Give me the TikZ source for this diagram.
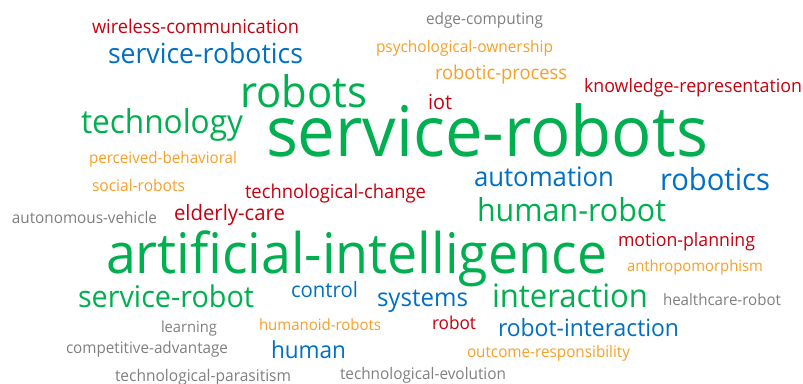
\documentclass[tikz,border=0pt]{standalone}
\usepackage{fontspec}
\usepackage{graphicx}
\setmainfont{Open Sans}
\definecolor{wgreen}{HTML}{00B050}
\definecolor{wblue}{HTML}{0070C4}
\definecolor{wred}{HTML}{C8000F}
\definecolor{worange}{HTML}{F7A028}
\definecolor{wgray}{HTML}{808080}
\tikzset{word/.style={inner sep=0pt,outer sep=0pt,anchor=base west}}
% name, left, right, baseline, colour, text
\newcommand{\wcw}[6]{%
  \pgfmathsetmacro{\wcwd}{#3-#2}%
  \node[word,text=#5] (#1) at (#2,#4) {\resizebox{\wcwd pt}{!}{\scalebox{1}[1.04]{#6}}};}
\begin{document}
\begin{tikzpicture}[x=1pt,y=-1pt]
\useasboundingbox (0,0) rectangle (803,383);
\fill[white] (0,0) rectangle (803,383);
\wcw{w1}{92}{299}{33}{wred}{wireless-communication}
\wcw{w2}{426}{543}{24}{wgray}{edge-computing}
\wcw{w3}{108}{303}{63}{wblue}{service-robotics}
\wcw{w4}{376}{553}{52}{worange}{psychological-ownership}
\wcw{w5}{435}{567}{79}{worange}{robotic-process}
\wcw{w6}{584}{802}{92}{wred}{knowledge-representation}
\wcw{w7}{240}{367}{107}{wgreen}{robots}
\wcw{w8}{428}{452}{109}{wred}{iot}
\wcw{w9}{81}{243}{133}{wgreen}{technology}
\wcw{w10}{266}{708}{156}{wgreen}{service-robots}
\wcw{w11}{89}{237}{163}{worange}{perceived-behavioral}
\wcw{w12}{92}{185}{191}{worange}{social-robots}
\wcw{w13}{245}{426}{198}{wred}{technological-change}
\wcw{w14}{474}{614}{186}{wblue}{automation}
\wcw{w15}{660}{770}{190}{wblue}{robotics}
\wcw{w16}{12}{157}{223}{wgray}{autonomous-vehicle}
\wcw{w17}{174}{285}{220}{wred}{elderly-care}
\wcw{w18}{477}{666}{221}{wgreen}{human-robot}
\wcw{w19}{106}{607}{273}{wgreen}{artificial-intelligence}
\wcw{w20}{618}{755}{246}{wred}{motion-planning}
\wcw{w21}{627}{763}{271}{worange}{anthropomorphism}
\wcw{w22}{78}{254}{307}{wgreen}{service-robot}
\wcw{w23}{291}{358}{297}{wblue}{control}
\wcw{w24}{377}{468}{306}{wblue}{systems}
\wcw{w25}{492}{648}{307}{wgreen}{interaction}
\wcw{w26}{663}{781}{305}{wgray}{healthcare-robot}
\wcw{w27}{161}{217}{332}{wgray}{learning}
\wcw{w28}{259}{381}{330}{worange}{humanoid-robots}
\wcw{w29}{432}{476}{329}{wred}{robot}
\wcw{w30}{498}{679}{336}{wblue}{robot-interaction}
\wcw{w31}{66}{228}{353}{wgray}{competitive-advantage}
\wcw{w32}{271}{346}{358}{wblue}{human}
\wcw{w33}{467}{630}{357}{worange}{outcome-responsibility}
\wcw{w34}{115}{291}{381}{wgray}{technological-parasitism}
\wcw{w35}{340}{506}{379}{wgray}{technological-evolution}
\end{tikzpicture}
\end{document}
